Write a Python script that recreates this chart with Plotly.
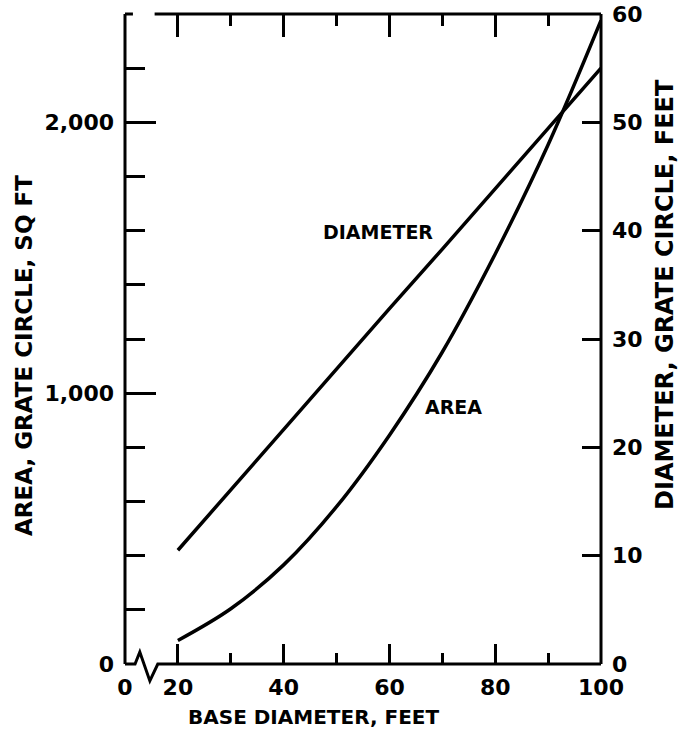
import plotly.graph_objects as go

# Grate circle size versus base diameter
base_diameter = [20, 30, 40, 50, 60, 70, 80, 90, 100]
grate_diameter_ft = [10.5, 16.1, 21.6, 27.2, 32.8, 38.3, 43.9, 49.4, 55.0]
grate_area_sqft = [87, 204, 366, 581, 845, 1152, 1514, 1917, 2376]

# Axis ticks and labels
x_tick_vals = [10, 20, 40, 60, 80, 100]
x_tick_text = ["0", "20", "40", "60", "80", "100"]
x_major_marks = [20, 40, 60, 80]
x_minor_marks = [30, 50, 70, 90]
area_tick_vals = [0, 1000, 2000]
area_tick_text = ["0", "1,000", "2,000"]
area_major_marks = [1000, 2000]
area_minor_marks = [200, 400, 600, 800, 1200, 1400, 1600, 1800, 2200]
diam_tick_vals = [0, 10, 20, 30, 40, 50, 60]

X_RANGE = [10, 100]          # left edge stands for 0 (broken axis)
AREA_RANGE = [0, 2400]
DIAM_RANGE = [0, 60]

INK = "black"
NUM_FONT = dict(family="DejaVu Sans", size=22, color=INK, weight="bold")
TITLE_FONT = "DejaVu Sans"


def px(xv):
    """x data value -> paper fraction"""
    return (xv - X_RANGE[0]) / (X_RANGE[1] - X_RANGE[0])


fig = go.Figure()

fig.add_trace(go.Scatter(
    x=base_diameter, y=grate_area_sqft, mode="lines",
    line=dict(color=INK, width=3.5, shape="spline"),
    xaxis="x", yaxis="y", showlegend=False, hoverinfo="skip"))

fig.add_trace(go.Scatter(
    x=base_diameter, y=grate_diameter_ft, mode="lines",
    line=dict(color=INK, width=3.5),
    xaxis="x", yaxis="y2", showlegend=False, hoverinfo="skip"))

# placeholders so the tick-only overlay axes get drawn
fig.add_trace(go.Scatter(x=[None], y=[None], xaxis="x2", yaxis="y",
                         showlegend=False, hoverinfo="skip"))
fig.add_trace(go.Scatter(x=[None], y=[None], xaxis="x", yaxis="y3",
                         showlegend=False, hoverinfo="skip"))

tick_common = dict(showgrid=False, zeroline=False, showline=False,
                   tickcolor=INK, tickwidth=3, automargin=False)

fig.update_layout(
    template="none",
    width=690, height=731,
    margin=dict(l=125, r=89, t=14, b=67, autoexpand=False),
    paper_bgcolor="white", plot_bgcolor="white",
    xaxis=dict(
        range=X_RANGE, tickmode="array", tickvals=x_tick_vals,
        ticktext=x_tick_text, ticks="inside", ticklen=20,
        tickfont=NUM_FONT, ticklabelstandoff=8,
        minor=dict(tickmode="array", tickvals=x_minor_marks, ticks="inside",
                   ticklen=11, tickcolor=INK, tickwidth=3),
        **tick_common),
    xaxis2=dict(
        range=X_RANGE, overlaying="x", side="top", anchor="y",
        tickmode="array", tickvals=x_major_marks, ticks="inside",
        ticklen=23, showticklabels=False,
        minor=dict(tickmode="array", tickvals=x_minor_marks, ticks="inside",
                   ticklen=12, tickcolor=INK, tickwidth=3),
        **tick_common),
    yaxis=dict(
        range=AREA_RANGE, tickmode="array", tickvals=area_tick_vals,
        ticktext=area_tick_text, ticks="", tickfont=NUM_FONT,
        ticklabelstandoff=10,
        **tick_common),
    yaxis3=dict(
        range=AREA_RANGE, overlaying="y", side="left", anchor="x",
        tickmode="array", tickvals=area_major_marks, ticks="inside",
        ticklen=31, showticklabels=False,
        minor=dict(tickmode="array", tickvals=area_minor_marks,
                   ticks="inside", ticklen=20, tickcolor=INK, tickwidth=3),
        **tick_common),
    yaxis2=dict(
        range=DIAM_RANGE, overlaying="y", side="right", anchor="x",
        tickmode="array", tickvals=diam_tick_vals, ticks="inside",
        ticklen=19, tickfont=NUM_FONT, ticklabelstandoff=10,
        **tick_common),
)

# Frame with the break between 0 and 20 on the base-diameter axis
frame = dict(color=INK, width=3)
fig.add_shape(type="line", xref="paper", yref="paper",
              x0=0, x1=0, y0=0, y1=1, line=frame)
fig.add_shape(type="line", xref="paper", yref="paper",
              x0=1, x1=1, y0=0, y1=1, line=frame)
fig.add_shape(type="line", xref="paper", yref="paper",
              x0=0, x1=px(11.5), y0=1, y1=1, line=frame)
fig.add_shape(type="line", xref="paper", yref="paper",
              x0=px(15.6), x1=1, y0=1, y1=1, line=frame)
zig = (f"M 0,0 L {px(11.9)},0 L {px(12.8)},0.0185 "
       f"L {px(14.7)},-0.026 L {px(16.2)},0 L 1,0")
fig.add_shape(type="path", xref="paper", yref="paper", path=zig, line=frame)

# Curve labels
lab_font = dict(family=TITLE_FONT, size=19, color=INK, weight="bold")
fig.add_annotation(x=57.8, y=1595, xref="x", yref="y", text="DIAMETER",
                   showarrow=False, font=lab_font,
                   xanchor="center", yanchor="middle")
fig.add_annotation(x=72.2, y=949, xref="x", yref="y", text="AREA",
                   showarrow=False, font=lab_font,
                   xanchor="center", yanchor="middle")

# Axis titles
fig.add_annotation(x=0.395, y=-0.0815, xref="paper", yref="paper",
                   text="BASE DIAMETER, FEET", showarrow=False,
                   xanchor="center", yanchor="middle",
                   font=dict(family=TITLE_FONT, size=20, color=INK, weight="bold"))
fig.add_annotation(x=-0.212, y=0.474, xref="paper", yref="paper",
                   text="AREA, GRATE CIRCLE, SQ FT", showarrow=False,
                   textangle=-90, xanchor="center", yanchor="middle",
                   font=dict(family=TITLE_FONT, size=23, color=INK, weight="bold"))
fig.add_annotation(x=1.134, y=0.569, xref="paper", yref="paper",
                   text="DIAMETER, GRATE CIRCLE, FEET", showarrow=False,
                   textangle=-90, xanchor="center", yanchor="middle",
                   font=dict(family=TITLE_FONT, size=24, color=INK, weight="bold"))

fig.write_html("out.html")
